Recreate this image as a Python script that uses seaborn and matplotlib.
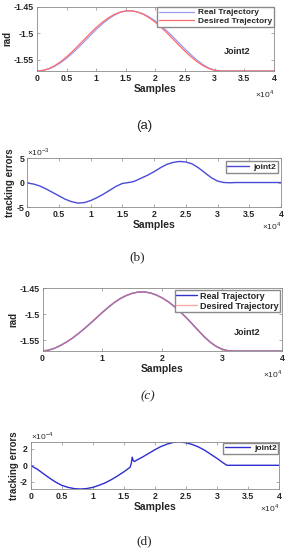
import matplotlib
matplotlib.use("Agg")
import pandas as pd
import matplotlib.pyplot as plt
import seaborn as sns
from matplotlib.ticker import FuncFormatter

# (a) trajectory, samples every 1000
a_x = [0, 1000, 2000, 3000, 4000, 5000, 6000, 7000, 8000, 9000, 10000,
       11000, 12000, 13000, 14000, 15000, 16000, 17000, 18000, 19000, 20000,
       21000, 22000, 23000, 24000, 25000, 26000, 27000, 28000, 29000, 30000,
       31000, 40000]
a_desired = [-1.5708, -1.5696, -1.5662, -1.5606, -1.5531, -1.5440, -1.5337,
             -1.5225, -1.5110, -1.4996, -1.4888, -1.4791, -1.4708, -1.4642,
             -1.4597, -1.4573, -1.4573, -1.4597, -1.4642, -1.4708, -1.4791,
             -1.4888, -1.4996, -1.5110, -1.5225, -1.5337, -1.5440, -1.5531,
             -1.5606, -1.5662, -1.5696, -1.5708, -1.5708]
a_real = [-1.5708, -1.5699, -1.5669, -1.5619, -1.5551, -1.5467, -1.5371,
          -1.5264, -1.5152, -1.5037, -1.4925, -1.4822, -1.4732, -1.4658,
          -1.4605, -1.4575, -1.4573, -1.4594, -1.4633, -1.4692, -1.4767,
          -1.4857, -1.4959, -1.5069, -1.5182, -1.5295, -1.5402, -1.5501,
          -1.5586, -1.5652, -1.5693, -1.5708, -1.5708]

# (b) tracking error
b_x = [0, 500, 1000, 2000, 3000, 4000, 5000, 6000, 7000, 8000, 9000, 10000,
       11000, 12000, 13000, 14000, 15000, 16000, 16500, 17000, 18000, 19000,
       20000, 21000, 22000, 23000, 24000, 25000, 26000, 27000, 28000, 29000,
       30000, 31000, 32000, 33000, 40000]
b_err = [0.0, -0.2e-3, -0.3e-3, -0.7e-3, -1.3e-3, -2.0e-3, -2.7e-3, -3.4e-3,
         -3.9e-3, -4.2e-3, -4.1e-3, -3.7e-3, -3.1e-3, -2.4e-3, -1.6e-3,
         -0.8e-3, -0.2e-3, 0.0, 0.1e-3, 0.3e-3, 0.9e-3, 1.5e-3, 2.2e-3,
         3.0e-3, 3.7e-3, 4.1e-3, 4.3e-3, 4.2e-3, 3.8e-3, 3.0e-3, 2.0e-3,
         1.0e-3, 0.3e-3, 0.0, -0.05e-3, 0.0, 0.0]

# (c) trajectory
c_x = [0, 1000, 2000, 3000, 4000, 5000, 6000, 7000, 8000, 9000, 10000,
       11000, 12000, 13000, 14000, 15000, 16000, 17000, 18000, 19000, 20000,
       21000, 22000, 23000, 24000, 25000, 26000, 27000, 28000, 29000, 30000,
       31000, 32000, 40000]
c_desired = [-1.57080, -1.56920, -1.56550, -1.56000, -1.55350, -1.54580,
             -1.53700, -1.52750, -1.51750, -1.50700, -1.49650, -1.48650,
             -1.47750, -1.47000, -1.46420, -1.46000, -1.45770, -1.45750,
             -1.45950, -1.46350, -1.46920, -1.47650, -1.48550, -1.49580,
             -1.50700, -1.51900, -1.53150, -1.54350, -1.55400, -1.56200,
             -1.56750, -1.57030, -1.57080, -1.57080]
c_real = [-1.57080, -1.56925, -1.56560, -1.56016, -1.55371, -1.54605,
          -1.53727, -1.52779, -1.51779, -1.50729, -1.49677, -1.48675,
          -1.47772, -1.47018, -1.46433, -1.46008, -1.45773, -1.45744,
          -1.45940, -1.46336, -1.46901, -1.47627, -1.48524, -1.49552,
          -1.50672, -1.51873, -1.53125, -1.54328, -1.55382, -1.56187,
          -1.56742, -1.57027, -1.57080, -1.57080]

# (d) tracking error
d_x = [0, 500, 1000, 2000, 3000, 4000, 5000, 6000, 7000, 8000, 9000, 10000,
       11000, 12000, 13000, 14000, 15000, 16000, 16200, 16350, 16500, 16700,
       17000, 18000, 19000, 20000, 21000, 22000, 23000, 24000, 25000, 26000,
       27000, 28000, 29000, 30000, 31000, 31600, 40000]
d_err = [0.0, -0.25e-4, -0.45e-4, -1.0e-4, -1.55e-4, -2.05e-4, -2.45e-4,
         -2.7e-4, -2.85e-4, -2.9e-4, -2.85e-4, -2.7e-4, -2.45e-4, -2.15e-4,
         -1.75e-4, -1.3e-4, -0.8e-4, -0.25e-4, 0.2e-4, 1.0e-4, 0.6e-4,
         0.45e-4, 0.6e-4, 1.0e-4, 1.45e-4, 1.9e-4, 2.3e-4, 2.6e-4, 2.8e-4,
         2.85e-4, 2.75e-4, 2.55e-4, 2.25e-4, 1.85e-4, 1.35e-4, 0.85e-4,
         0.3e-4, 0.0, 0.0]

sns.set_style("ticks")
plt.rcParams['font.family'] = ['Liberation Sans', 'DejaVu Sans']
plt.rcParams['mathtext.fontset'] = 'custom'
plt.rcParams['mathtext.rm'] = 'Liberation Sans'
plt.rcParams['axes.edgecolor'] = '#8a8a8a'
plt.rcParams['axes.linewidth'] = 0.6

fig = plt.figure(figsize=(2.9, 5.5), dpi=100)
ax_a = fig.add_axes([0.1276, 0.8709, 0.8172, 0.1164])
ax_b = fig.add_axes([0.0931, 0.6236, 0.8759, 0.0891])
ax_c = fig.add_axes([0.1466, 0.3618, 0.8259, 0.1145])
ax_d = fig.add_axes([0.1059, 0.1109, 0.8562, 0.0855])

bold = {'weight': 'bold', 'size': 6}


def style(ax, xticks, yticks, yscale, ylim, ylabel):
    ax.set_xlim(0, 40000)
    ax.set_ylim(*ylim)
    ax.set_xticks(xticks)
    ax.set_yticks(yticks)
    ax.xaxis.set_major_formatter(FuncFormatter(lambda v, p: '%g' % (v / 1e4)))
    ax.yaxis.set_major_formatter(FuncFormatter(lambda v, p: '%g' % round(v * yscale, 4)))
    ax.tick_params(direction='in', length=2, width=0.5, color='#8a8a8a',
                   top=True, right=True, labelsize=6.3, pad=2)
    for lab in ax.get_xticklabels() + ax.get_yticklabels():
        lab.set_fontweight('bold')
    ax.set_xlabel('Samples', fontsize=7.5, fontweight='bold', labelpad=1)
    ax.set_ylabel(ylabel, fontsize=7, fontweight='bold', labelpad=1)
    ax.text(1.0, -0.27, r'$\times10^{4}$', transform=ax.transAxes,
            ha='right', va='top', fontsize=6)


half = [0, 5000, 10000, 15000, 20000, 25000, 30000, 35000, 40000]

# (a)
sns.lineplot(x=a_x, y=a_real, ax=ax_a, color='#9a9af0', lw=0.9,
             label='Real Trajectory', estimator=None, sort=False)
sns.lineplot(x=a_x, y=a_desired, ax=ax_a, color='#ff6a6a', lw=0.9,
             label='Desired Trajectory', estimator=None, sort=False)
style(ax_a, half, [-1.55, -1.5, -1.45], 1, (-1.5708, -1.45), 'rad')
ax_a.text(0.845, 0.30, 'Joint2', transform=ax_a.transAxes, ha='center',
          va='center', fontsize=6.5, fontweight='bold')
ax_a.legend(loc='upper right', prop=bold, frameon=True, fancybox=False,
            edgecolor='#8a8a8a', framealpha=1, borderaxespad=0,
            borderpad=0.2, labelspacing=0.1, handlelength=4.2,
            handletextpad=0.5)

# (b)
sns.lineplot(x=b_x, y=b_err, ax=ax_b, color='#4a4ad8', lw=1.0,
             label='joint2', estimator=None, sort=False)
style(ax_b, half, [-5e-3, 0, 5e-3], 1e3, (-5e-3, 5e-3), 'tracking errors')
ax_b.text(0.0, 1.0, r'$\times10^{-3}$', transform=ax_b.transAxes,
          ha='left', va='bottom', fontsize=6)
ax_b.legend(loc='upper right', prop=bold, frameon=True, fancybox=False,
            edgecolor='#8a8a8a', framealpha=1, borderaxespad=0.4,
            borderpad=0.2, handlelength=2.6, handletextpad=0.5)

# (c)
sns.lineplot(x=c_x, y=c_real, ax=ax_c, color='#3434c8', lw=1.0,
             label='Real Trajectory', estimator=None, sort=False)
sns.lineplot(x=c_x, y=c_desired, ax=ax_c, color='#f08a8a', lw=1.0,
             alpha=0.7, label='Desired Trajectory', estimator=None, sort=False)
style(ax_c, [0, 10000, 20000, 30000, 40000], [-1.55, -1.5, -1.45], 1,
      (-1.5708, -1.45), 'rad')
ax_c.text(0.855, 0.30, 'Joint2', transform=ax_c.transAxes, ha='center',
          va='center', fontsize=6.5, fontweight='bold')
ax_c.legend(loc='upper right', prop={'weight': 'bold', 'size': 6.5},
            frameon=True, fancybox=False, edgecolor='#8a8a8a', framealpha=1,
            borderaxespad=0.2, borderpad=0.2, labelspacing=0.1,
            handlelength=2.3, handletextpad=0.3)

# (d)
sns.lineplot(x=d_x, y=d_err, ax=ax_d, color='#2e2ed0', lw=1.0,
             label='joint2', estimator=None, sort=False)
style(ax_d, half, [-2e-4, 0, 2e-4], 1e4, (-2.9e-4, 2.85e-4), 'tracking errors')
ax_d.text(0.0, 1.0, r'$\times10^{-4}$', transform=ax_d.transAxes,
          ha='left', va='bottom', fontsize=6)
ax_d.legend(loc='upper right', prop=bold, frameon=True, fancybox=False,
            edgecolor='#8a8a8a', framealpha=1, borderaxespad=0.1,
            borderpad=0.2, handlelength=3.0, handletextpad=0.5)

fig.text(144 / 290, 1 - 126 / 550, '(a)', ha='center', va='center',
         fontsize=9.5, family='Liberation Sans')
fig.text(137 / 290, 1 - 257 / 550, '(b)', ha='center', va='center',
         fontsize=9.5, family='Liberation Serif')
fig.text(148 / 290, 1 - 396 / 550, '(c)', ha='center', va='center',
         fontsize=9.5, family='Liberation Serif', style='italic')
fig.text(144 / 290, 1 - 541 / 550, '(d)', ha='center', va='center',
         fontsize=9.5, family='Liberation Serif')

fig.savefig('out.png', dpi=100, facecolor='white')
